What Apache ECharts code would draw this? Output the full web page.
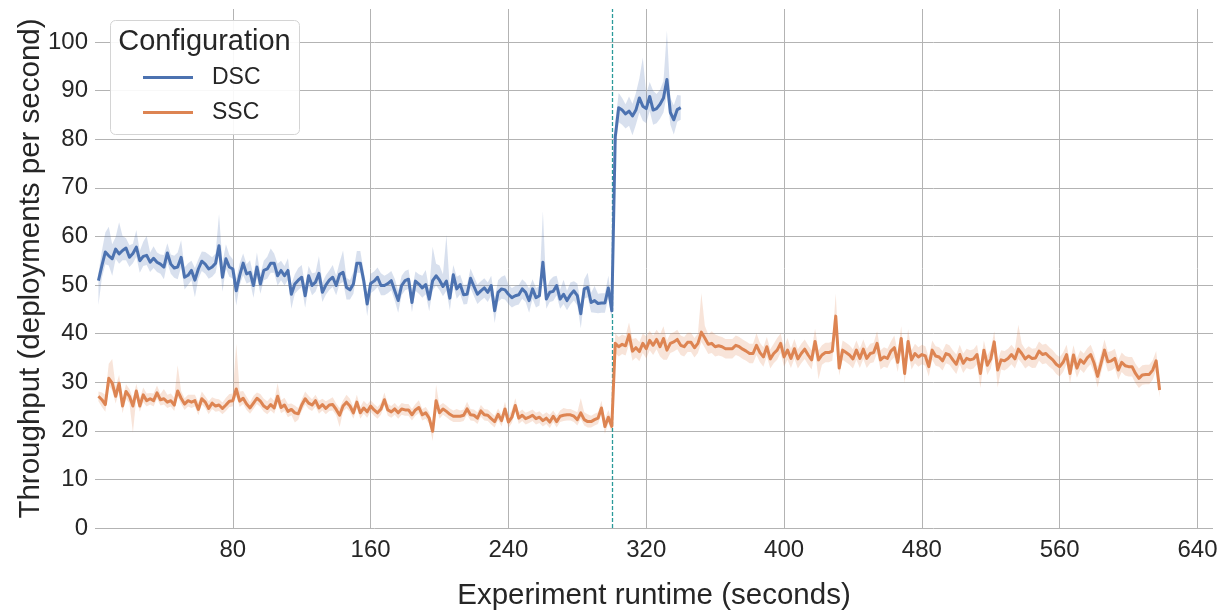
<!DOCTYPE html>
<html>
<head>
<meta charset="utf-8">
<script src="https://cdn.jsdelivr.net/npm/echarts@6/dist/echarts.min.js"></script>
<style>
  html, body { margin: 0; padding: 0; background: #ffffff; }
  #chart { width: 1228px; height: 616px; }
</style>
</head>
<body>
<div id="chart"></div>
<script>
// Samples are taken every 2 seconds, starting at t = 2 s
const T_START = 2;
const T_STEP = 2;
const PHASE_SWITCH = 300;   // runtime (s) at which the configuration change happens

const xTicks = [80, 160, 240, 320, 400, 480, 560, 640];
const yTicks = [0, 10, 20, 30, 40, 50, 60, 70, 80, 90, 100];
const configurations = ['DSC', 'SSC'];

// DSC mean throughput (t = 2 .. 340 s)
const dscMean = [
  50.9, 54.0, 56.8, 56.0, 55.4, 57.4, 56.4, 57.1, 57.6, 55.7,
  56.5, 57.8, 55.0, 55.9, 56.1, 54.7, 55.5, 54.7, 54.3, 53.7,
  56.6, 54.3, 53.5, 53.7, 55.7, 51.6, 52.0, 53.0, 51.0, 53.3,
  54.9, 54.3, 53.3, 53.7, 54.5, 58.1, 51.6, 55.4, 53.7, 53.3,
  48.8, 52.0, 54.5, 52.3, 52.6, 49.9, 53.7, 50.2, 53.0, 53.3,
  54.5, 54.5, 51.9, 53.0, 51.9, 53.0, 48.1, 50.2, 51.0, 51.6,
  47.8, 51.9, 49.9, 50.6, 52.4, 48.5, 50.0, 51.0, 51.6, 49.9,
  52.2, 52.6, 49.5, 49.0, 50.2, 54.5, 54.5, 50.9, 46.1, 50.3,
  50.8, 51.6, 49.9, 49.9, 50.3, 50.9, 48.8, 46.8, 49.9, 50.9,
  51.2, 46.4, 50.8, 50.2, 49.4, 50.1, 47.1, 50.9, 51.9, 51.0,
  49.7, 50.8, 47.3, 52.1, 49.2, 50.1, 48.0, 48.1, 51.4, 49.7,
  48.1, 48.8, 49.4, 48.5, 49.9, 44.7, 48.5, 49.2, 49.0, 48.1,
  47.4, 47.8, 48.0, 49.2, 48.5, 46.8, 49.2, 47.4, 47.8, 54.7,
  47.1, 48.5, 48.7, 49.9, 47.1, 48.1, 46.8, 48.0, 48.8, 47.8,
  44.1, 49.2, 49.5, 46.4, 46.8, 46.2, 46.3, 46.3, 49.4, 44.7,
  80.5, 86.5, 86.0, 85.2, 85.8, 84.8, 86.0, 88.5, 86.8, 86.3,
  88.8, 86.0, 86.3, 87.2, 88.5, 92.3, 85.5, 84.0, 86.1, 86.5
];
// DSC confidence band: extent above / below the mean
const dscUp = [
  1.5, 3, 4, 6, 3, 2.5, 6.5, 3, 2, 2.5,
  2, 3.5, 2, 3, 4, 2, 2.5, 2, 2, 2.5,
  2, 2, 2.5, 3, 3.5, 2, 2.5, 2, 2.5, 2,
  2, 2.5, 3, 2, 2, 6.5, 3, 3, 2.5, 2,
  2.5, 2.5, 2, 2, 2.5, 2, 3, 2, 2, 2.5,
  3, 2, 2.5, 2, 2, 2.5, 2, 2, 2.5, 2.5,
  2, 2, 2.5, 2, 3.5, 2, 2, 2, 2.5, 2,
  2.5, 4.5, 2, 2, 2.5, 2.5, 2.5, 2, 2, 2,
  2, 2, 2.5, 2, 2, 2, 2.5, 2, 2, 2,
  2, 2.5, 2, 2, 2.5, 3, 2, 7, 2.5, 3,
  2.5, 9.5, 2, 2, 2.5, 2, 2, 2, 2, 2,
  2, 2, 2, 2, 2, 2.5, 2.5, 2.5, 3, 2,
  2, 2, 2, 2, 2, 2.5, 2, 2, 2, 10.5,
  2, 2.5, 3, 2, 2, 3, 2, 2.5, 2, 2.5,
  2, 2, 3, 2, 3, 2, 2, 2, 2.5, 2,
  3, 3, 2.5, 2, 3, 2.5, 3.5, 4, 10, 3,
  3, 4, 3, 3, 3.5, 10, 3, 3, 3, 2.5
];
const dscDown = [
  5, 2.5, 2.5, 2, 3.5, 2, 2, 2, 2.5, 2,
  2, 2, 2.5, 2, 2, 2, 2, 2, 2, 2.5,
  2, 2, 2, 2.5, 2, 2.5, 2, 2, 3.5, 2,
  2, 2, 2, 2, 2, 2, 3, 2, 2, 2,
  3, 2, 2.5, 2, 2, 2.5, 2, 2, 2, 2,
  2, 2, 2, 2, 2, 2, 3, 2, 2, 2,
  2.5, 2, 2, 2, 2, 2, 2, 2, 2, 2,
  2, 2, 2.5, 2, 2, 2, 2, 2, 2.5, 2,
  2, 2, 2, 2, 2, 2, 2, 2.5, 2, 2,
  2, 2, 2, 2, 2, 2, 2.5, 2, 2, 2,
  2, 2, 2.5, 2, 2, 2, 2, 2, 2, 2,
  2, 2, 2, 2, 2, 2.5, 2, 2, 2, 2,
  2, 2, 2, 2, 2, 2.5, 2, 2, 2, 2,
  2, 2, 2, 2, 2, 2, 2, 2, 2, 2,
  3, 2, 2, 2, 2.5, 2, 2, 2, 2, 2,
  3, 3, 3, 3, 3, 4, 3, 3, 3, 3,
  3, 3, 3, 3, 3, 3, 2.5, 3, 2.5, 2.5
];

// SSC mean throughput (t = 2 .. 618 s)
const sscMean = [
  27.1, 26.4, 25.4, 30.8, 29.8, 27.1, 29.8, 25.1, 28.1, 27.1,
  25.1, 28.2, 25.1, 27.4, 26.2, 26.6, 26.2, 27.8, 26.4, 26.6,
  25.9, 26.2, 25.3, 28.2, 26.7, 25.5, 26.2, 25.9, 26.2, 24.4,
  26.6, 25.9, 24.6, 25.7, 25.1, 25.3, 24.6, 25.3, 26.1, 26.2,
  28.6, 26.1, 26.7, 25.5, 24.7, 25.7, 26.7, 26.1, 25.1, 24.6,
  25.4, 24.7, 27.1, 24.8, 25.3, 24.0, 24.4, 23.7, 23.5, 25.3,
  26.6, 25.7, 25.3, 26.2, 24.7, 25.4, 24.6, 25.3, 25.4, 24.4,
  23.2, 25.1, 25.9, 25.1, 23.7, 25.9, 23.7, 24.7, 23.9, 25.1,
  24.3, 23.7, 24.5, 26.4, 24.3, 23.9, 24.5, 23.7, 24.5, 24.3,
  24.3, 23.3, 24.3, 24.8, 23.3, 23.7, 22.6, 19.9, 26.2, 23.7,
  24.5, 24.0, 23.4, 23.0, 23.0, 23.0, 23.2, 24.5, 23.3, 23.2,
  22.6, 24.1, 23.3, 23.2, 22.5, 21.9, 23.4, 22.1, 24.5, 21.8,
  22.8, 25.2, 22.6, 23.2, 22.5, 22.8, 23.2, 22.5, 22.8, 22.1,
  22.6, 21.8, 23.0, 21.9, 23.0, 23.2, 23.3, 23.3, 23.0, 22.3,
  23.7, 22.3, 21.9, 21.9, 22.3, 22.6, 24.7, 20.9, 22.8, 20.9,
  38.0, 37.3, 37.8, 37.5, 39.8, 36.4, 37.1, 36.3, 38.0, 36.9,
  38.6, 37.6, 38.8, 37.3, 39.0, 36.6, 38.0, 38.3, 38.8, 37.6,
  37.3, 38.2, 38.2, 37.1, 38.0, 40.3, 39.1, 37.8, 38.0, 37.3,
  37.5, 37.3, 36.9, 36.9, 36.9, 37.6, 37.3, 36.8, 36.4, 35.9,
  35.9, 37.6, 36.1, 35.2, 37.3, 34.8, 35.9, 36.6, 38.0, 35.2,
  36.6, 34.9, 36.9, 34.8, 35.9, 36.8, 35.6, 34.6, 38.4, 34.6,
  35.6, 36.1, 36.1, 36.4, 43.6, 32.9, 36.6, 36.1, 35.6, 34.8,
  36.6, 34.9, 36.8, 34.9, 35.9, 36.1, 38.0, 34.6, 35.2, 34.9,
  36.4, 37.1, 34.1, 39.0, 31.8, 38.4, 34.6, 35.9, 35.2, 35.7,
  35.4, 33.2, 36.6, 35.4, 35.2, 34.4, 35.9, 35.6, 34.6, 33.7,
  35.7, 33.9, 34.9, 34.6, 34.8, 35.7, 31.8, 36.6, 33.5, 34.8,
  38.3, 32.5, 34.6, 34.4, 34.9, 35.7, 34.8, 36.8, 35.9, 34.8,
  35.4, 34.9, 35.0, 36.4, 35.7, 35.9, 35.2, 34.6, 33.7, 33.2,
  34.1, 35.7, 31.8, 35.6, 32.9, 34.6, 33.9, 35.0, 35.7, 33.9,
  31.2, 33.9, 36.6, 34.2, 34.4, 34.9, 32.5, 34.1, 33.4, 33.2,
  33.2, 31.8, 30.8, 31.5, 31.6, 31.6, 32.5, 34.4, 28.4
];
// SSC confidence band: extent above / below the mean
const sscUp = [
  1, 1.5, 2, 3, 5, 2, 1.7, 1.5, 1.5, 1.5,
  1.5, 1.5, 1.5, 1.5, 1.5, 1.2, 1.5, 1.5, 1.2, 2,
  1.5, 1.5, 1.5, 5.3, 1.5, 1.2, 1.2, 1.5, 1.2, 1.5,
  1.5, 1.2, 1.5, 1.2, 1.5, 1.2, 1.2, 1.5, 1.5, 1.5,
  9.3, 2, 1.5, 1.5, 1.2, 1.5, 1.2, 1.5, 1.5, 1.5,
  1.5, 1.5, 2.7, 1.5, 1.5, 1.5, 1.2, 1.5, 1.2, 1.2,
  1.5, 1.5, 1.2, 1.2, 1.5, 1.2, 1.5, 1.2, 1.5, 1.2,
  1.5, 1.2, 1.5, 1.5, 1.2, 1.5, 1.2, 1.5, 1.5, 1.2,
  1.2, 1.2, 1.2, 1.5, 1.2, 1.2, 1.2, 1.2, 1.2, 1.2,
  1.2, 1.2, 1.2, 1.5, 1.2, 1.2, 1.2, 1.2, 3.3, 1.5,
  1.2, 1.2, 1.2, 1.2, 1.5, 1.2, 1.2, 1.5, 1.2, 1.2,
  1.2, 1.2, 1.2, 1.2, 1.2, 1.2, 1.2, 1.2, 1.5, 1.2,
  1.5, 1.5, 1.2, 1.2, 1.2, 1.2, 1.2, 1.2, 1.2, 1.2,
  1.2, 1.5, 1.2, 1.2, 1.2, 1.5, 1.2, 1.2, 1.2, 1.5,
  3, 1.5, 1.5, 1.2, 1.2, 1.2, 1.5, 1.5, 1.5, 1.2,
  2, 2, 2, 2, 2.5, 2.5, 2, 2, 2, 2.5,
  2, 2, 2, 2.5, 2.5, 2, 2, 2, 2, 2,
  2, 2, 2, 2, 2, 8, 2.5, 2, 2.5, 2.5,
  2, 2, 2, 2, 2, 2, 2, 2, 2, 2,
  2, 2.5, 2, 2, 2, 2, 2, 2.5, 2, 2,
  2.5, 2, 2, 2, 2, 2, 2, 2, 2.6, 2,
  2, 2, 2, 2, 4.6, 2, 2, 2, 2, 2,
  2, 2, 2, 2, 2, 2, 2.5, 2, 2, 2,
  2, 2.5, 2, 2.5, 2, 2.5, 2, 2, 2, 2,
  2, 2, 2, 2, 2, 2, 2, 2, 2, 2,
  2, 2, 2, 2, 2, 2, 2, 2, 2, 2,
  2.2, 2, 2, 2, 2, 2, 2, 5, 2, 2,
  2, 2, 2, 2, 2, 2, 2, 2, 2, 2,
  2, 2, 2.5, 2, 2, 2, 2, 2, 2, 2,
  2, 2, 2.2, 2, 2, 2, 2, 2, 2, 2,
  2, 2, 2, 2, 2, 2, 2, 2, 1.5
];
const sscDown = [
  1, 1.5, 1.5, 1.5, 1.5, 1.5, 1.5, 1.5, 1.5, 1.5,
  5.5, 1.5, 1.2, 1.5, 1.2, 1.2, 1.2, 1.2, 1.2, 1.2,
  1.2, 1.2, 1.2, 1.2, 1.2, 1.2, 1.2, 1.2, 1.2, 1.2,
  1.2, 1.2, 1.2, 1.2, 1.2, 1.2, 1.2, 1.2, 1.2, 1.2,
  1.5, 1.2, 1.2, 1.2, 1.2, 1.2, 1.2, 1.2, 1.2, 1.2,
  1.2, 1.2, 1.5, 1.2, 1.2, 1.2, 1.2, 2, 1.2, 1.2,
  1.2, 1.2, 1.2, 1.2, 1.2, 1.2, 1.2, 1.2, 1.2, 1.2,
  2.4, 1.2, 1.2, 1.2, 1.2, 1.2, 1.2, 1.2, 1.2, 1.2,
  1.2, 1.2, 1.2, 1.2, 1.2, 1.2, 1.2, 1.2, 1.2, 1.2,
  1.2, 1.2, 1.2, 1.2, 1.2, 1.2, 1.2, 2, 1.2, 1.2,
  1.2, 1.2, 1.2, 1.2, 1.2, 1.2, 1.2, 1.2, 1.2, 1.2,
  1.2, 1.2, 1.2, 1.2, 1.2, 1.2, 1.2, 1.2, 1.2, 1.2,
  1.2, 1.2, 1.2, 1.2, 1.2, 1.2, 1.2, 1.2, 1.2, 1.2,
  1.2, 1.2, 1.2, 1.2, 1.2, 1.2, 1.2, 1.2, 1.2, 1.2,
  1.2, 1.2, 1.2, 1.2, 1.2, 1.2, 1.2, 1.5, 1.2, 1.2,
  2, 2, 2, 2, 2, 2, 2, 2, 2, 2,
  2, 2, 2, 2, 4.4, 2, 2, 2, 2, 2,
  2, 2, 2, 2, 2, 2, 2, 2, 2, 2,
  2, 2, 2, 2, 2, 2, 2, 2, 2, 2,
  2, 2, 2, 2, 2, 2, 2, 2, 2, 2,
  2, 2, 2, 2, 2, 2, 2, 2, 2, 4,
  2, 2, 2, 2, 2, 1.5, 2, 2, 2, 2,
  2, 2, 2, 2, 2, 2, 2, 2, 2, 2,
  2, 2, 2, 2, 2, 2, 2, 2, 2, 2,
  2, 2, 2, 2, 2, 2, 2, 2, 2, 2,
  2, 2, 2, 2, 2, 2, 3, 2, 2, 2,
  2, 3.6, 2, 2, 2, 2, 2, 2, 2, 2,
  2, 2, 2, 2, 2, 2, 2, 2, 2, 2,
  2, 2, 2, 2, 2, 2, 2, 2, 2, 2,
  2.3, 2, 2, 2, 2, 2, 2, 2, 2, 2,
  2, 2, 2, 2, 2, 2, 2, 2, 1.5
];

const FONT = "'Liberation Sans', Arial, Helvetica, sans-serif";
const TEXT = '#262626';
const GRID = '#b3b3b3';
const COLORS = { DSC: '#4c72b0', SSC: '#dd8452' };
const BAND = { DSC: 'rgba(76,114,176,0.22)', SSC: 'rgba(221,132,82,0.22)' };

const timeOf = i => T_START + i * T_STEP;
const pairs = vals => vals.map((v, i) => [timeOf(i), v]);

// Confidence band drawn as one polygon: upper edge left→right, lower edge right→left,
// every vertex placed through the chart's own axes (api.coord)
function bandSeries(name, mean, up, down) {
  return {
    name: name + ' band', type: 'custom', silent: true, z: 1,
    data: [[timeOf(0), mean[0]]],
    encode: { x: 0, y: 1 },
    renderItem: (params, api) => {
      const pts = [];
      for (let i = 0; i < mean.length; i++) pts.push(api.coord([timeOf(i), mean[i] + up[i]]));
      for (let i = mean.length - 1; i >= 0; i--) pts.push(api.coord([timeOf(i), mean[i] - down[i]]));
      return { type: 'polygon', shape: { points: pts }, style: { fill: BAND[name] } };
    }
  };
}

const chart = echarts.init(document.getElementById('chart'), null, { renderer: 'canvas' });

chart.setOption({
  animation: false,
  backgroundColor: '#ffffff',
  textStyle: { fontFamily: FONT, color: TEXT },
  grid: { left: 95, right: 15, top: 9, bottom: 86, containLabel: false },
  xAxis: {
    type: 'value', min: 0, max: 649, interval: 80,
    name: 'Experiment runtime (seconds)', nameLocation: 'middle', nameGap: 53,
    nameTextStyle: { fontSize: 29.5, color: TEXT, fontFamily: FONT },
    axisLine: { show: false }, axisTick: { show: false },
    axisLabel: {
      fontSize: 24, color: TEXT, fontFamily: FONT, margin: 10,
      showMinLabel: false, showMaxLabel: false,
      formatter: v => (xTicks.includes(v) ? String(v) : '')
    },
    splitLine: { show: true, showMinLine: false, showMaxLine: false, lineStyle: { color: GRID, width: 1 } }
  },
  yAxis: {
    type: 'value', min: 0, max: 106.8, interval: 10,
    name: 'Throughput (deployments per second)', nameLocation: 'middle', nameGap: 49,
    nameMoveOverlap: false,
    nameTextStyle: { fontSize: 29.5, color: TEXT, fontFamily: FONT },
    axisLine: { show: false }, axisTick: { show: false },
    axisLabel: {
      fontSize: 24, color: TEXT, fontFamily: FONT, margin: 7,
      showMaxLabel: false,
      formatter: v => (yTicks.includes(v) ? String(v) : '')
    },
    splitLine: { show: true, showMaxLine: false, lineStyle: { color: GRID, width: 1 } }
  },
  legend: {
    data: configurations, orient: 'vertical', left: 138, top: 61,
    icon: 'rect', itemWidth: 50, itemHeight: 3, itemGap: 12,
    selectedMode: false, z: 20,
    textStyle: { fontSize: 23, color: TEXT, fontFamily: FONT, padding: [0, 0, 0, 14] }
  },
  graphic: [
    {
      type: 'rect', left: 110, top: 20, z: 10, silent: true,
      shape: { width: 189, height: 114, r: 5 },
      style: { fill: 'rgba(255,255,255,0.9)', stroke: '#d4d4d4', lineWidth: 1 }
    },
    {
      type: 'text', x: 204.5, y: 42, z: 11, silent: true,
      style: { text: 'Configuration', fontSize: 29, fontFamily: FONT, fill: TEXT, align: 'center', verticalAlign: 'middle' }
    }
  ],
  series: [
    bandSeries('DSC', dscMean, dscUp, dscDown),
    bandSeries('SSC', sscMean, sscUp, sscDown),
    {
      name: 'DSC', type: 'line', data: pairs(dscMean), symbol: 'none', z: 5,
      itemStyle: { color: COLORS.DSC },
      lineStyle: { color: COLORS.DSC, width: 3, join: 'round' }
    },
    {
      name: 'SSC', type: 'line', data: pairs(sscMean), symbol: 'none', z: 5,
      itemStyle: { color: COLORS.SSC },
      lineStyle: { color: COLORS.SSC, width: 3, join: 'round' },
      markLine: {
        silent: true, symbol: ['none', 'none'], label: { show: false },
        lineStyle: { color: '#2a9a9a', type: [4, 2], width: 1.3 },
        data: [{ xAxis: PHASE_SWITCH }]
      }
    }
  ]
});
</script>
</body>
</html>
